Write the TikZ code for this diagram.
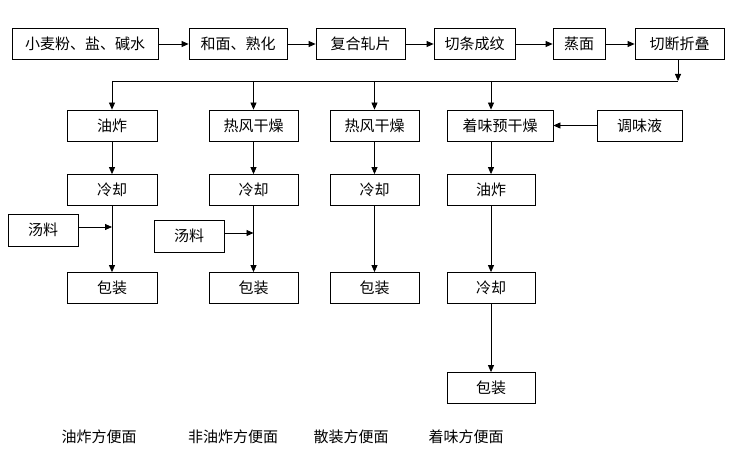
\documentclass[tikz,border=0pt]{standalone}
\usepackage{fontspec}
\setmainfont{Noto Sans CJK SC}
\usetikzlibrary{arrows.meta}
\usetikzlibrary{positioning}

\begin{document}
\begin{tikzpicture}[
			x=1pt, y=-1pt,
			line width=0.8pt,
			every node/.style={font=\fontsize{15}{18}\selectfont, inner sep=0pt},
			box/.style={draw, minimum height=31pt},
			arrow/.style={-{Triangle[length=7pt,width=6pt]}}
		]
		\useasboundingbox (0,0) rectangle (737,454);

		% main line
		\node[box, minimum width=146pt] (raw) at (85,44) {小麦粉、盐、碱水};
		\node[box, minimum width=98pt] (mix) at (238,44) {和面、熟化};
		\node[box, minimum width=89pt] (roll) at (360.5,44) {复合轧片};
		\node[box, minimum width=81pt] (cut) at (474.5,44) {切条成纹};
		\node[box, minimum width=52pt] (steam) at (579,44) {蒸面};
		\node[box, minimum width=89pt] (fold) at (679.5,44) {切断折叠};

		\foreach \a/\b in {raw/mix, mix/roll, roll/cut, cut/steam, steam/fold}
			\draw[arrow] (\a) -- (\b);

		% second row
		\node[box, minimum width=90pt] (fryA) at (112,125.5) {油炸};
		\node[box, minimum width=89pt] (dryB) at (253.5,125.5) {热风干燥};
		\node[box, minimum width=89pt] (dryC) at (374.5,125.5) {热风干燥};
		\node[box, minimum width=106pt] (preD) at (500,125.5) {着味预干燥};
		\node[box, minimum width=85pt] (sauce) at (639.5,125.5) {调味液};

		% third row
		\node[box, minimum width=90pt] (coolA) at (112,190) {冷却};
		\node[box, minimum width=89pt] (coolB) at (253.5,190) {冷却};
		\node[box, minimum width=89pt] (coolC) at (374.5,190) {冷却};
		\node[box, minimum width=88pt] (fryD) at (491,190) {油炸};

		% fourth row
		\node[box, minimum width=90pt] (packA) at (112,288) {包装};
		\node[box, minimum width=89pt] (packB) at (253.5,288) {包装};
		\node[box, minimum width=89pt] (packC) at (374.5,288) {包装};
		\node[box, minimum width=88pt] (coolD) at (491,288) {冷却};
		\node[box, minimum width=88pt] (packD) at (491,388) {包装};

		% soup packets
		\node[box, minimum width=70pt, minimum height=32pt] (soupA) at (43,230) {汤料};
		\node[box, minimum width=70pt, minimum height=32pt] (soupB) at (189,236) {汤料};

		% distribution line
		\coordinate (busL) at (112,81);
		\coordinate (busR) at (678,81);
		\draw[arrow] (fold.south -| busR) -- (busR);
		\draw (busL) -- (busR);
		\draw[arrow] (busL) -- (fryA);
		\draw[arrow] (busL -| dryB) -- (dryB);
		\draw[arrow] (busL -| dryC) -- (dryC);
		\draw[arrow] (busL -| fryD) -- (fryD |- preD.north);
		\draw[arrow] (sauce) -- (preD);

		% columns
		\foreach \a/\b in {fryA/coolA, coolA/packA, dryB/coolB, coolB/packB,
				dryC/coolC, coolC/packC, coolD/packD, fryD/coolD}
			\draw[arrow] (\a) -- (\b);
		\draw[arrow] (preD.south -| fryD) -- (fryD);

		\coordinate (joinA) at ([yshift=3pt]soupA.east -| coolA);
		\coordinate (joinB) at ([yshift=3pt]soupB.east -| coolB);
		\draw[arrow] ([yshift=3pt]soupA.east) -- (joinA);
		\draw[arrow] ([yshift=3pt]soupB.east) -- (joinB);

		% product labels
		\node (nameA) at (99,437) {油炸方便面};
		\node (nameB) at (233,437) {非油炸方便面};
		\node (nameC) at (351,437) {散装方便面};
		\node (nameD) at (466,437) {着味方便面};

	\end{tikzpicture}
\end{document}
